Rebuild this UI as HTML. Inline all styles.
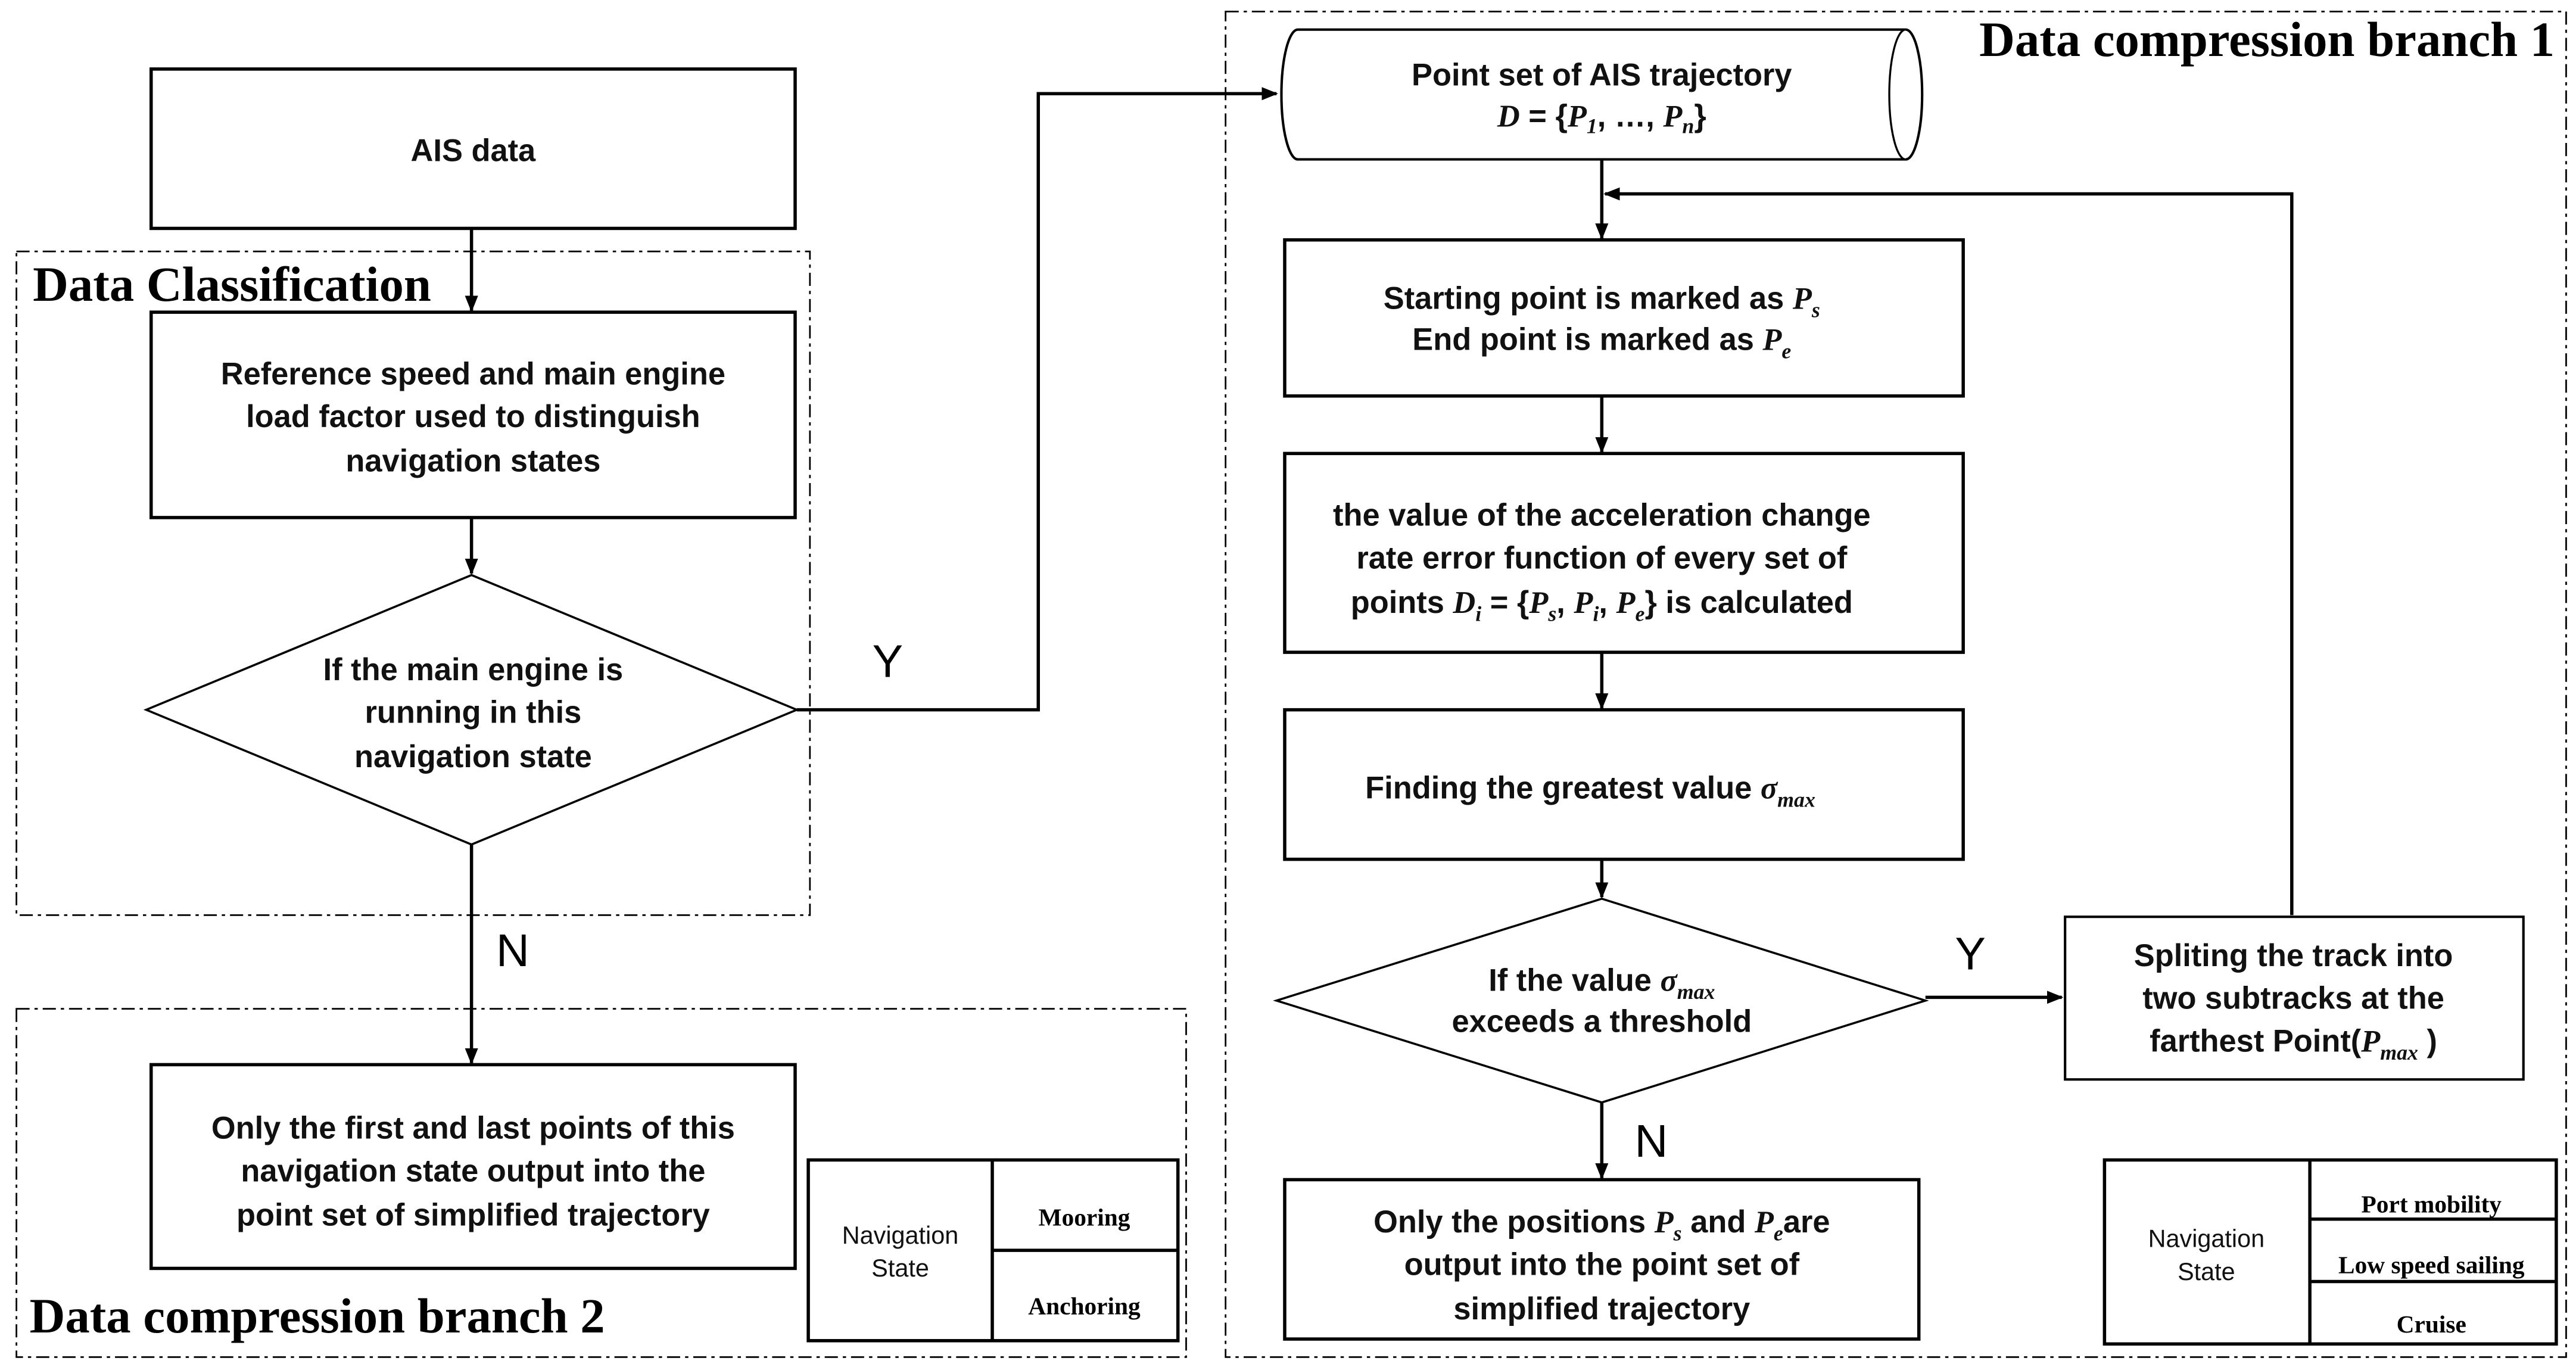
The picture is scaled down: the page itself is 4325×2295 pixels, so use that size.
<!DOCTYPE html>
<html><head><meta charset="utf-8"><style>
html,body{margin:0;padding:0;background:#fff}
svg{display:block}
.t{font-family:"Liberation Sans",sans-serif;font-size:19px;font-weight:bold;fill:#111;text-anchor:middle}
.m{font-family:"Liberation Serif",serif;font-style:italic;font-weight:bold}
.h{font-family:"Liberation Serif",serif;font-size:30px;font-weight:bold;fill:#000}
.s{font-family:"Liberation Serif",serif;font-size:15px;font-weight:bold;fill:#000;text-anchor:middle}
.n{font-family:"Liberation Sans",sans-serif;font-size:15px;fill:#111;text-anchor:middle}
.yn{font-family:"Liberation Sans",sans-serif;font-size:28px;fill:#000}
</style></head><body>
<svg width="4325" height="2295" viewBox="0 0 1568 832" xmlns="http://www.w3.org/2000/svg">
<defs><marker id="a" markerWidth="10" markerHeight="10" refX="9" refY="5" orient="auto" markerUnits="userSpaceOnUse"><path d="M0,1 L10,5 L0,9 Z" fill="#000"/></marker></defs>
<g fill="none" stroke="#000" stroke-width="1" stroke-dasharray="8,3,2,3">
<rect x="10" y="153" width="483" height="404"/>
<rect x="10" y="614" width="712" height="212"/>
<rect x="746" y="7" width="816" height="819"/>
</g>
<text class="h" x="20" y="183">Data Classification</text>
<text class="h" x="18" y="811">Data compression branch 2</text>
<text class="h" x="1555" y="34" text-anchor="end">Data compression branch 1</text>
<g fill="#fff" stroke="#000" stroke-width="2">
<rect x="92" y="42" width="392" height="97"/>
<rect x="92" y="190" width="392" height="125"/>
<polygon points="89,432 287,350 485,432 287,514" stroke-width="1.3"/>
<rect x="92" y="648" width="392" height="124"/>
<rect x="782" y="146" width="413" height="95"/>
<rect x="782" y="276" width="413" height="121"/>
<rect x="782" y="432" width="413" height="91"/>
<polygon points="777,609 975,547 1172,609 975,671" stroke-width="1.3"/>
<rect x="1257" y="558" width="279" height="99" stroke-width="1.5"/>
<rect x="782" y="718" width="386" height="97"/>
<path d="M790,18 L1160,18 A10,39.5 0 0 1 1160,97 L790,97 A10,39.5 0 0 1 790,18 Z" stroke-width="1.5"/>
<path d="M1160,18 A10,39.5 0 0 0 1160,97" stroke-width="1.2"/>
<rect x="492" y="706" width="225" height="110"/>
<rect x="1281" y="706" width="275" height="112"/>
</g>
<g stroke="#000" stroke-width="2" fill="none">
<line x1="604" y1="706" x2="604" y2="816"/><line x1="604" y1="761" x2="717" y2="761"/>
<line x1="1406" y1="706" x2="1406" y2="818"/><line x1="1406" y1="742" x2="1556" y2="742"/><line x1="1406" y1="780" x2="1556" y2="780"/>
<line x1="287" y1="139" x2="287" y2="189" marker-end="url(#a)"/>
<line x1="287" y1="315" x2="287" y2="349" marker-end="url(#a)"/>
<line x1="287" y1="514" x2="287" y2="647" marker-end="url(#a)"/>
<polyline points="485,432 632,432 632,57 777,57" marker-end="url(#a)"/>
<line x1="975" y1="97" x2="975" y2="145" marker-end="url(#a)"/>
<line x1="975" y1="241" x2="975" y2="275" marker-end="url(#a)"/>
<line x1="975" y1="397" x2="975" y2="431" marker-end="url(#a)"/>
<line x1="975" y1="523" x2="975" y2="546" marker-end="url(#a)"/>
<line x1="1172" y1="607" x2="1255" y2="607" marker-end="url(#a)"/>
<polyline points="1395,557 1395,118 977,118" marker-end="url(#a)"/>
<line x1="975" y1="671" x2="975" y2="717" marker-end="url(#a)"/>
</g>
<text class="yn" x="531" y="412">Y</text>
<text class="yn" x="302" y="588">N</text>
<text class="yn" x="1190" y="590">Y</text>
<text class="yn" x="995" y="704">N</text>
<text class="t" x="288" y="98">AIS data</text>
<text class="t" x="288" y="234">Reference speed and main engine</text>
<text class="t" x="288" y="260">load factor used to distinguish</text>
<text class="t" x="288" y="287">navigation states</text>
<text class="t" x="288" y="414">If the main engine is</text>
<text class="t" x="288" y="440">running in this</text>
<text class="t" x="288" y="467">navigation state</text>
<text class="t" x="288" y="693">Only the first and last points of this</text>
<text class="t" x="288" y="719">navigation state output into the</text>
<text class="t" x="288" y="746">point set of simplified trajectory</text>
<text class="n" x="548" y="757">Navigation</text><text class="n" x="548" y="777">State</text>
<text class="s" x="660" y="746">Mooring</text><text class="s" x="660" y="800">Anchoring</text>
<text class="n" x="1343" y="759">Navigation</text><text class="n" x="1343" y="779">State</text>
<text class="s" x="1480" y="738">Port mobility</text>
<text class="s" x="1480" y="775">Low speed sailing</text>
<text class="s" x="1480" y="811">Cruise</text>
<text class="t" x="975" y="52">Point set of AIS trajectory</text>
<text class="t" x="975" y="77"><tspan class="m">D</tspan> = {<tspan class="m">P</tspan><tspan class="m" font-size="13" dy="4">1</tspan><tspan dy="-4">, …, </tspan><tspan class="m">P</tspan><tspan class="m" font-size="13" dy="4">n</tspan><tspan dy="-4">}</tspan></text>
<text class="t" x="975" y="188">Starting point is marked as <tspan class="m">P</tspan><tspan class="m" font-size="13" dy="5">s</tspan></text>
<text class="t" x="975" y="213">End point is marked as <tspan class="m">P</tspan><tspan class="m" font-size="13" dy="5">e</tspan></text>
<text class="t" x="975" y="320">the value of the acceleration change</text>
<text class="t" x="975" y="346">rate error function of every set of</text>
<text class="t" x="975" y="373">points <tspan class="m">D</tspan><tspan class="m" font-size="13" dy="5">i</tspan><tspan dy="-5"> = {</tspan><tspan class="m">P</tspan><tspan class="m" font-size="13" dy="5">s</tspan><tspan dy="-5">, </tspan><tspan class="m">P</tspan><tspan class="m" font-size="13" dy="5">i</tspan><tspan dy="-5">, </tspan><tspan class="m">P</tspan><tspan class="m" font-size="13" dy="5">e</tspan><tspan dy="-5">} is calculated</tspan></text>
<text class="t" x="968" y="486">Finding the greatest value <tspan class="m">σ</tspan><tspan class="m" font-size="13" dy="5">max</tspan></text>
<text class="t" x="975" y="603">If the value <tspan class="m">σ</tspan><tspan class="m" font-size="13" dy="5">max</tspan></text>
<text class="t" x="975" y="628">exceeds a threshold</text>
<text class="t" x="1396" y="588">Spliting the track into</text>
<text class="t" x="1396" y="614">two subtracks at the</text>
<text class="t" x="1396" y="640">farthest Point(<tspan class="m">P</tspan><tspan class="m" font-size="13" dy="5">max</tspan><tspan dy="-5"> )</tspan></text>
<text class="t" x="975" y="750">Only the positions <tspan class="m">P</tspan><tspan class="m" font-size="13" dy="5">s</tspan><tspan dy="-5"> and </tspan><tspan class="m">P</tspan><tspan class="m" font-size="13" dy="5">e</tspan><tspan dy="-5">are</tspan></text>
<text class="t" x="975" y="776">output into the point set of</text>
<text class="t" x="975" y="803">simplified trajectory</text>
</svg>
</body></html>
